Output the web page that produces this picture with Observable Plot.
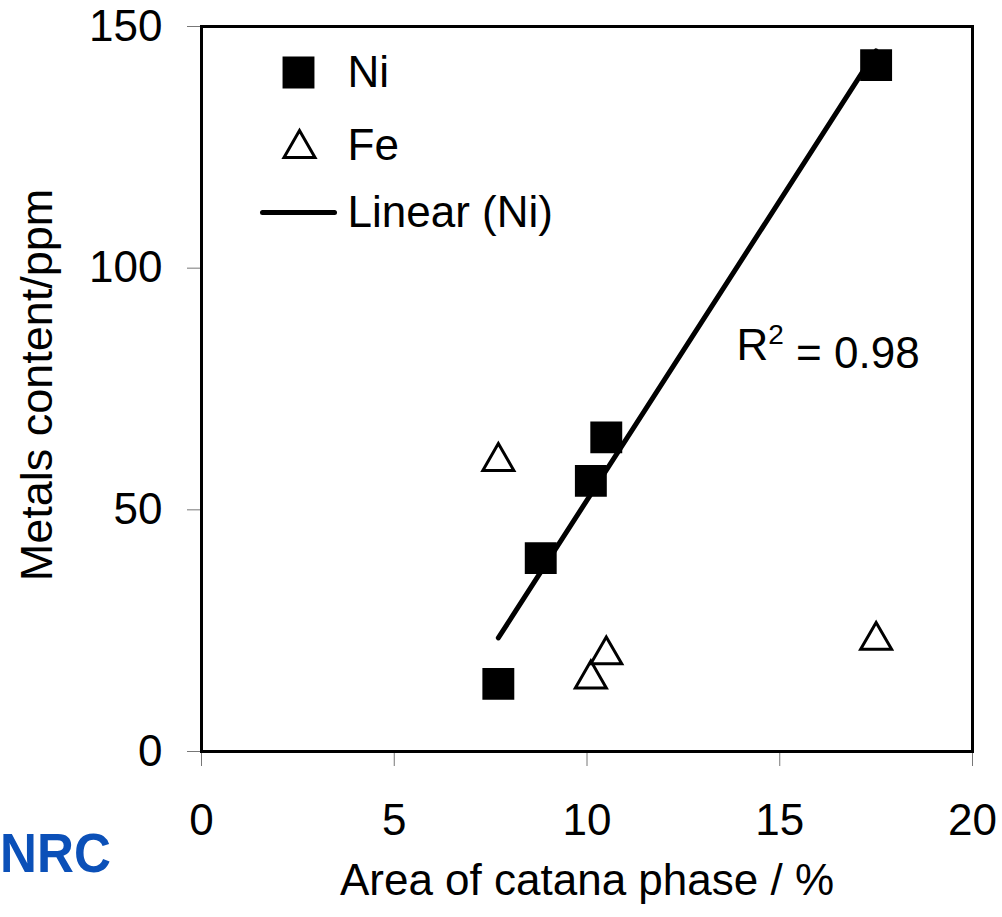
<!DOCTYPE html>
<html>
<head>
<meta charset="utf-8">
<script src="https://cdn.jsdelivr.net/npm/d3@7"></script>
<script src="https://cdn.jsdelivr.net/npm/@observablehq/plot@0.6"></script>
<style>
  body { margin: 0; background: #fff; }
  #wrap { position: relative; width: 1002px; height: 917px; overflow: hidden; font-family: "Liberation Sans", Arial, sans-serif; }
  #nrc { position: absolute; left: 0px; top: 826px; font: bold 55px/1 "Liberation Sans", Arial, sans-serif; color: #0b50b8; transform-origin: left top; transform: scaleX(0.93); }
</style>
</head>
<body>
<div id="wrap"><div id="nrc">NRC</div></div>
<script>
// ---- data ----
const niArea  = [7.7, 8.8, 10.1, 10.5, 17.5];
const niMetal = [14, 40, 56, 65, 142];
const feArea  = [7.7, 10.1, 10.5, 17.5];
const feMetal = [60, 15, 20, 23];
const xTicks = [0, 5, 10, 15, 20];
const yTicks = [0, 50, 100, 150];
const xLabel = "Area of catana phase / %";
const yLabel = "Metals content/ppm";
const legendLabels = ["Ni", "Fe", "Linear (Ni)"];
const r2Value = "0.98";

const ni = niArea.map((a, i) => ({area: a, metal: niMetal[i]}));
const fe = feArea.map((a, i) => ({area: a, metal: feMetal[i]}));

const lineSymbol = { draw(ctx) { ctx.moveTo(-36, 0); ctx.lineTo(36, 0); } };
const FS = 44;
const legendRowDy = [46, 119, 186];

const chart = Plot.plot({
  width: 1002,
  height: 917,
  marginLeft: 201,
  marginRight: 30,
  marginTop: 26,
  marginBottom: 166,
  style: { fontFamily: "'Liberation Sans', Arial, sans-serif", background: "white", overflow: "visible" },
  x: { domain: [0, 20] },
  y: { domain: [0, 150] },
  marks: [
    Plot.axisX({ ticks: xTicks, tickSize: 15, tickPadding: 37, fontSize: FS, stroke: "#777", fill: "black", label: null, tickFormat: d => String(d) }),
    Plot.axisY({ ticks: yTicks, tickSize: 14, tickPadding: 25, fontSize: FS, stroke: "#777", fill: "black", label: null, tickFormat: d => String(d) }),
    Plot.frame({ stroke: "black", strokeWidth: 3 }),
    Plot.linearRegressionY(ni, { x: "area", y: "metal", ci: 0, stroke: "black", strokeWidth: 5, strokeLinecap: "round" }),
    Plot.dot(fe, { x: "area", y: "metal", symbol: "triangle", r: 11.5, fill: "white", stroke: "black", strokeWidth: 3 }),
    Plot.dot(ni, { x: "area", y: "metal", symbol: "square", r: 18, fill: "black", stroke: "none" }),
    // legend
    Plot.dot([legendLabels[0]], { frameAnchor: "top-left", dx: 97, dy: legendRowDy[0], symbol: "square", r: 18, fill: "black", stroke: "none" }),
    Plot.dot([legendLabels[1]], { frameAnchor: "top-left", dx: 98, dy: legendRowDy[1] + 3, symbol: "triangle", r: 11.5, fill: "white", stroke: "black", strokeWidth: 3 }),
    Plot.dot([legendLabels[2]], { frameAnchor: "top-left", dx: 97, dy: legendRowDy[2], symbol: lineSymbol, r: 20, stroke: "black", strokeWidth: 5, strokeLinecap: "round" }),
    ...legendLabels.map((lab, i) =>
      Plot.text([lab], { frameAnchor: "top-left", text: d => d, dx: 146, dy: legendRowDy[i], fontSize: FS, textAnchor: "start", lineAnchor: "middle", fill: "black" })
    ),
    // R² annotation
    Plot.text([r2Value], { frameAnchor: "top-left", text: d => "R2 = " + d, dx: 535, dy: 319, fontSize: FS, textAnchor: "start", lineAnchor: "middle", fill: "black", className: "r2" }),
    // axis titles
    Plot.text([xLabel], { frameAnchor: "bottom", text: d => d, dy: 143, fontSize: FS, textAnchor: "middle", fill: "black" }),
    Plot.text([yLabel], { frameAnchor: "left", text: d => d, dx: -164, dy: -4, rotate: -90, fontSize: 45, textAnchor: "middle", lineAnchor: "middle", fill: "black" })
  ]
});

// superscript 2 in the R² annotation
d3.select(chart).selectAll("g.r2 text").each(function() {
  const t = d3.select(this);
  t.text(null);
  t.append("tspan").text("R");
  t.append("tspan").attr("dy", "-0.55em").attr("font-size", "28").text("2");
  t.append("tspan").attr("dy", "0.55em").text(" = " + r2Value);
});

document.getElementById("wrap").prepend(chart);
</script>
</body>
</html>
